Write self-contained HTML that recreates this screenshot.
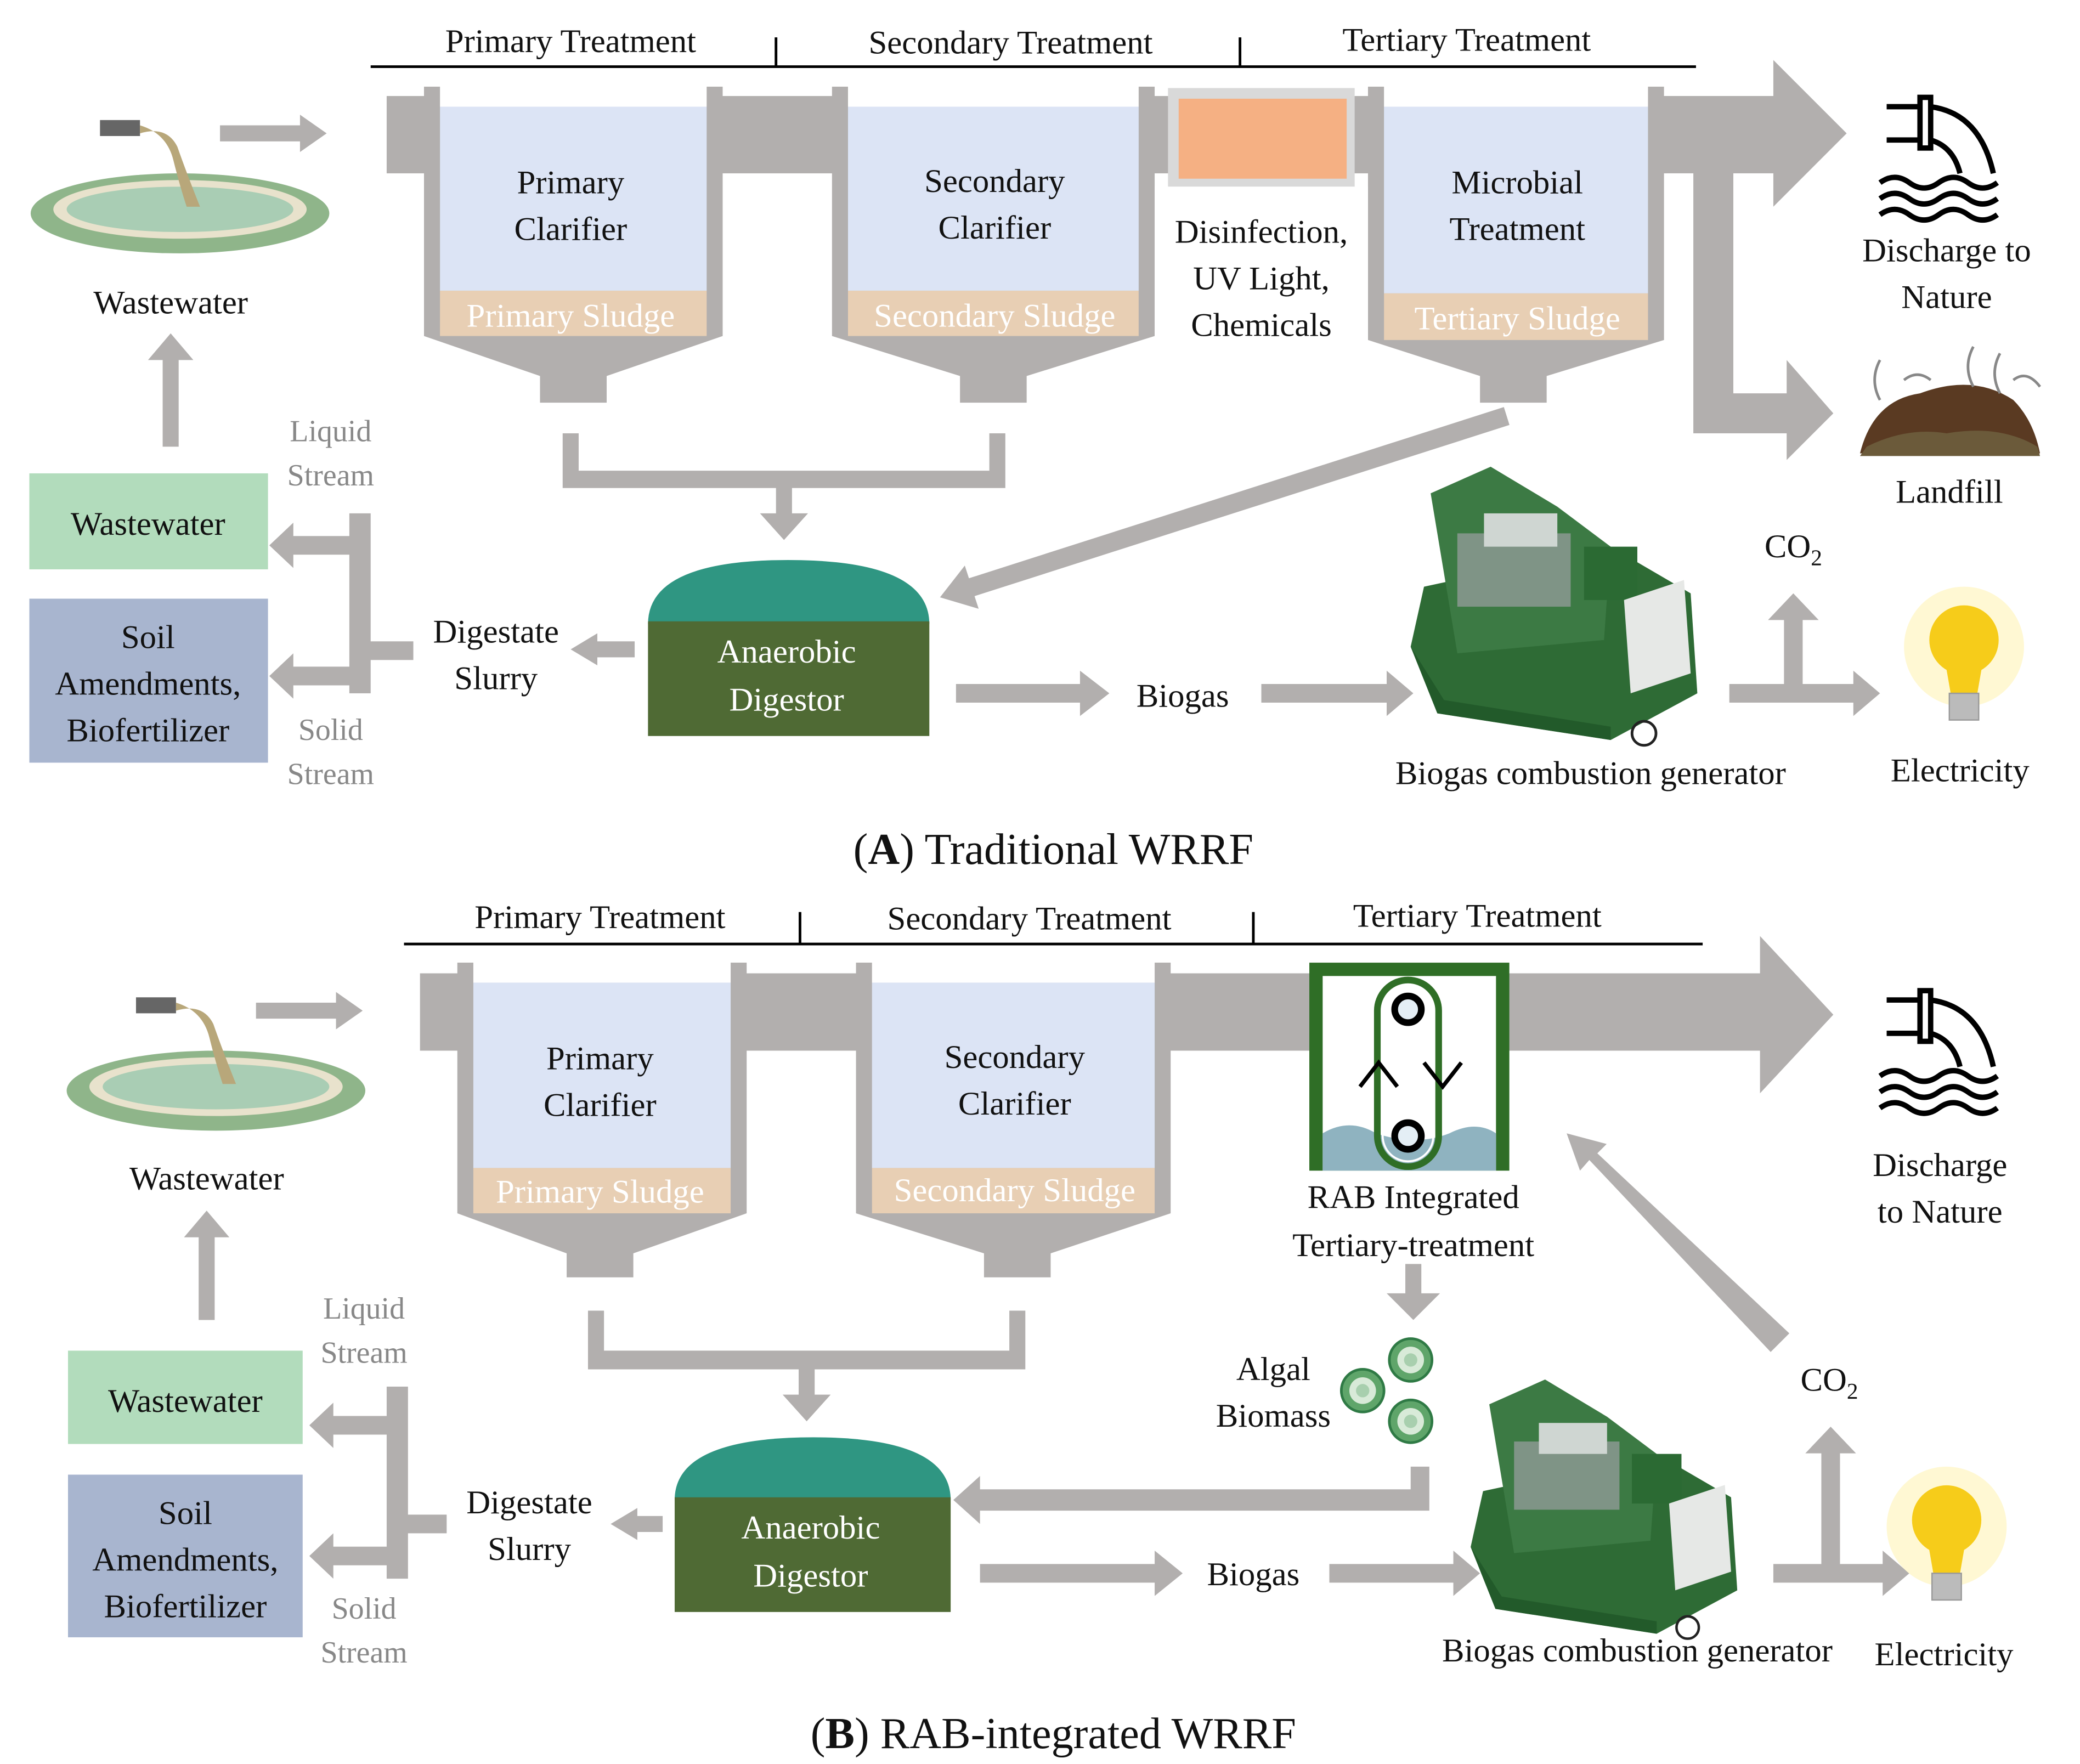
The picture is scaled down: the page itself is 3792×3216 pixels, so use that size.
<!DOCTYPE html>
<html><head><meta charset="utf-8"><style>
html,body{margin:0;padding:0;background:#fff;}
svg{display:block;}
text{font-family:"Liberation Serif",serif;}
</style></head><body>
<svg width="3792" height="3216" viewBox="0 0 1560 1323" xmlns="http://www.w3.org/2000/svg">
<defs>
<g id="gen">
<polygon points="10,95 150,65 210,100 215,175 150,210 20,190 0,140" fill="#2e6b35"/>
<polygon points="15,25 60,5 110,35 150,65 145,135 35,145" fill="#3c7a44"/>
<rect x="35" y="55" width="85" height="55" fill="#7f9486"/>
<rect x="55" y="40" width="55" height="25" fill="#cfd6d2"/>
<rect x="130" y="65" width="40" height="40" fill="#2b6a33"/>
<polygon points="160,105 205,90 210,160 165,175" fill="#e6e8e6"/>
<polygon points="0,140 20,190 150,210 150,200 25,180" fill="#225a2a"/>
<circle cx="175" cy="205" r="9" fill="none" stroke="#222" stroke-width="2"/>
</g>
<g id="pond">
<ellipse cx="0" cy="0" rx="112" ry="30" fill="#8fb58a"/>
<ellipse cx="0" cy="-3" rx="95" ry="22" fill="#e8e2cc"/>
<ellipse cx="0" cy="-3" rx="85" ry="17" fill="#a9cdb4"/>
<path d="M-60,-70 L-30,-70 L-30,-58 L-60,-58Z" fill="#666"/>
<path d="M-30,-66 Q-10,-60 -5,-40 Q0,-20 5,-5 L15,-5 Q5,-30 -2,-50 Q-10,-66 -30,-60Z" fill="#b8a77a"/>
</g>
<g id="discharge" fill="none" stroke="#000" stroke-width="4">
<path d="M-40,-35 H-15 M-40,-10 H-15"/>
<rect x="-15" y="-42" width="8" height="38"/>
<path d="M-7,-35 Q30,-30 40,15 M-7,-10 Q10,-5 15,15"/>
<path d="M-45,22 q11,-8 22,0 t22,0 t22,0 t22,0 M-45,34 q11,-8 22,0 t22,0 t22,0 t22,0 M-45,46 q11,-8 22,0 t22,0 t22,0 t22,0"/>
</g>
<g id="bulb">
<circle cx="0" cy="0" r="45" fill="#fff6c8" opacity="0.8"/>
<circle cx="0" cy="-5" r="26" fill="#f6cc1a"/>
<path d="M-14,12 L-10,35 H10 L14,12Z" fill="#f6cc1a"/>
<rect x="-11" y="35" width="22" height="20" fill="#bbb" stroke="#999"/>
</g>
<g id="alga">
<circle r="16" fill="#5fa56a" stroke="#2f7a45" stroke-width="2"/>
<circle r="10" fill="#d8ead8"/>
<circle r="5" fill="#a8cfae"/>
</g>
</defs>
<g fill="#b2afae">
<rect x="290" y="72" width="960" height="58"/>
<polygon points="1240,72 1330,72 1330,45 1385,100 1330,155 1330,130 1240,130"/>
<polygon points="1270,130 1300,130 1300,295 1340,295 1340,270 1375,310 1340,345 1340,325 1270,325"/>
<polygon points="318,65 542,65 542,252 455,282 455,302 405,302 405,282 318,252"/>
<polygon points="624,65 866,65 866,252 770,282 770,302 720,302 720,282 624,252"/>
<polygon points="1026,65 1248,65 1248,255 1160,282 1160,302 1110,302 1110,282 1026,255"/>
<path d="M422,325h12v28h308v-28h12v41h-160v19h12l-18,20l-18,-20h12v-19h-160z"/>
<polygon points="428,487 448,475 448,481 476,481 476,493 448,493 448,499"/>
<path d="M262,385h16v96h32v14h-32v25h-16v-6h-42v10l-18,-17l18,-17v10h42v-84h-42v10l-18,-17l18,-17v10h42z"/>
<polygon points="122,335 134,335 134,270 145,270 128,250 111,270 122,270"/>
<polygon points="165,94 225,94 225,86 245,100 225,114 225,106 165,106"/>
<polygon points="717,513 810,513 810,503 832,520 810,537 810,527 717,527"/>
<polygon points="946,513 1040,513 1040,503 1060,520 1040,537 1040,527 946,527"/>
<polygon points="1297,513 1338,513 1338,465 1326,465 1345,445 1364,465 1352,465 1352,513 1390,513 1390,503 1410,520 1390,537 1390,527 1297,527"/>
<rect x="315" y="730" width="1010" height="58"/>
<polygon points="1310,730 1320,730 1320,702 1375,761 1320,820 1320,788 1310,788"/>
<polygon points="343,722 560,722 560,910 475,940 475,958 425,958 425,940 343,910"/>
<polygon points="642,722 878,722 878,910 788,940 788,958 738,958 738,940 642,910"/>
<path d="M441,983h12v30h304v-30h12v44h-158v19h12l-18,20l-18,-20h12v-19h-158z"/>
<polygon points="1054,948 1066,948 1066,970 1080,970 1060,990 1040,970 1054,970"/>
<path d="M1058,1100h14v33h-337v10l-20,-18l20,-18v10h323z"/>
<polygon points="1342,1000 1328,1014 1192,870 1185,878 1175,850 1205,858 1198,865"/>
<polygon points="458,1143 478,1131 478,1137 497,1137 497,1149 478,1149 478,1155"/>
<path d="M290,1040h16v96h29v14h-29v34h-16v-10h-40v10l-18,-17l18,-17v10h40v-84h-40v10l-18,-17l18,-17v10h40z"/>
<polygon points="149,990 161,990 161,928 172,928 155,908 138,928 149,928"/>
<polygon points="192,752 252,752 252,744 272,758 252,772 252,764 192,764"/>
<polygon points="735,1173 866,1173 866,1163 887,1180 866,1197 866,1187 735,1187"/>
<polygon points="997,1173 1090,1173 1090,1163 1110,1180 1090,1197 1090,1187 997,1187"/>
<polygon points="1330,1173 1366,1173 1366,1090 1354,1090 1373,1070 1392,1090 1380,1090 1380,1173 1412,1173 1412,1163 1432,1180 1412,1197 1412,1187 1330,1187"/>
</g>
<rect x="330" y="60" width="200" height="20" fill="#fff"/>
<rect x="330" y="80" width="200" height="138" fill="#dce4f5"/>
<rect x="330" y="218" width="200" height="34" fill="#e8cfb4"/>
<rect x="636" y="60" width="218" height="20" fill="#fff"/>
<rect x="636" y="80" width="218" height="138" fill="#dce4f5"/>
<rect x="636" y="218" width="218" height="34" fill="#e8cfb4"/>
<rect x="1038" y="60" width="198" height="20" fill="#fff"/>
<rect x="1038" y="80" width="198" height="140" fill="#dce4f5"/>
<rect x="1038" y="220" width="198" height="35" fill="#e8cfb4"/>
<rect x="876" y="66" width="140" height="74" fill="#d9d9d9"/>
<rect x="884" y="74" width="126" height="60" fill="#f5b083"/>
<rect x="866" y="140" width="160" height="125" fill="#fff"/>
<polygon fill="#b2afae" points="1132.1,318.7 730.9,447.1 734,456.6 705,448 723.6,424.2 726.7,433.7 1127.9,305.3"/>
<rect x="355" y="717" width="193" height="20" fill="#fff"/>
<rect x="355" y="737" width="193" height="139" fill="#dce4f5"/>
<rect x="355" y="876" width="193" height="34" fill="#e8cfb4"/>
<rect x="654" y="717" width="212" height="20" fill="#fff"/>
<rect x="654" y="737" width="212" height="139" fill="#dce4f5"/>
<rect x="654" y="876" width="212" height="34" fill="#e8cfb4"/>
<rect x="982" y="722" width="150" height="156" fill="#2f6e26"/>
<rect x="992" y="732" width="130" height="146" fill="#fff"/>
<path d="M992,850 q20,-12 40,0 q30,10 55,0 q20,-10 35,0 V878 H992Z" fill="#8fb3c0"/>
<rect x="1033" y="735" width="46" height="140" rx="23" fill="none" stroke="#2f6e26" stroke-width="5"/>
<rect x="1037" y="739" width="38" height="132" rx="19" fill="none" stroke="#fff" stroke-width="1.5"/>
<circle cx="1056" cy="757" r="10" fill="#e4eef5" stroke="#000" stroke-width="5"/>
<circle cx="1056" cy="852" r="10" fill="#e4eef5" stroke="#000" stroke-width="5"/>
<path d="M1020,815 L1034,797 L1048,815 M1068,797 L1082,815 L1096,797" fill="none" stroke="#000" stroke-width="3"/>
<path d="M486,468 Q486,420 591,420 Q697,420 697,468Z" fill="#2f9682"/>
<rect x="486" y="466" width="211" height="86" fill="#4f6a34"/>
<path d="M506,1125 Q506,1078 610,1078 Q713,1078 713,1125Z" fill="#2f9682"/>
<rect x="506" y="1123" width="207" height="86" fill="#4f6a34"/>
<rect x="22" y="355" width="179" height="72" fill="#b2dcbc"/>
<rect x="22" y="449" width="179" height="123" fill="#a8b5cf"/>
<rect x="51" y="1013" width="176" height="70" fill="#b2dcbc"/>
<rect x="51" y="1106" width="176" height="122" fill="#a8b5cf"/>
<use href="#pond" x="135" y="160"/>
<use href="#pond" x="162" y="818"/>
<use href="#discharge" x="1455" y="115"/>
<use href="#discharge" x="1455" y="785"/>
<use href="#bulb" x="1473" y="485"/>
<use href="#bulb" x="1460" y="1145"/>
<use href="#gen" x="1058" y="345"/>
<g transform="translate(1103,1030) scale(0.93)"><use href="#gen"/></g>
<path d="M1395,340 Q1405,300 1440,295 Q1480,280 1510,300 Q1525,315 1530,340Z" fill="#5a3a22"/>
<path d="M1400,335 Q1430,320 1460,325 Q1500,318 1528,335 L1530,342 H1395Z" fill="#6b5a3a"/>
<path d="M1410,300 q-8,-15 0,-30 M1480,290 q-8,-15 0,-30 M1500,295 q-8,-15 0,-30 M1428,285 q10,-8 20,0 M1510,285 q10,-8 20,5" stroke="#888" stroke-width="2" fill="none"/>
<use href="#alga" x="1022" y="1043"/><use href="#alga" x="1058" y="1020"/><use href="#alga" x="1058" y="1066"/>
<g stroke="#000" stroke-width="2">
<line x1="278" y1="50" x2="1272" y2="50"/><line x1="582" y1="28" x2="582" y2="50"/><line x1="930" y1="28" x2="930" y2="50"/>
<line x1="303" y1="708" x2="1277" y2="708"/><line x1="600" y1="684" x2="600" y2="708"/><line x1="940" y1="684" x2="940" y2="708"/>
</g>
<g font-size="25" text-anchor="middle" fill="#111">
<text x="428" y="39">Primary Treatment</text>
<text x="758" y="40">Secondary Treatment</text>
<text x="1100" y="38">Tertiary Treatment</text>
<text x="428" y="145">Primary</text><text x="428" y="180">Clarifier</text>
<text x="746" y="144">Secondary</text><text x="746" y="179">Clarifier</text>
<text x="1138" y="145">Microbial</text><text x="1138" y="180">Treatment</text>
<text x="946" y="182">Disinfection,</text><text x="946" y="217">UV Light,</text><text x="946" y="252">Chemicals</text>
<text x="1460" y="196">Discharge to</text><text x="1460" y="231">Nature</text>
<text x="1462" y="377">Landfill</text>
<text x="128" y="235">Wastewater</text>
<text x="111" y="401">Wastewater</text>
<text x="111" y="486">Soil</text><text x="111" y="521">Amendments,</text><text x="111" y="556">Biofertilizer</text>
<text x="372" y="482">Digestate</text><text x="372" y="517">Slurry</text>
<text x="887" y="530">Biogas</text>
<text x="1193" y="588">Biogas combustion generator</text>
<text x="1470" y="586">Electricity</text>
<text x="1345" y="418">CO<tspan font-size="17" dy="6">2</tspan></text>
<text x="450" y="696">Primary Treatment</text>
<text x="772" y="697">Secondary Treatment</text>
<text x="1108" y="695">Tertiary Treatment</text>
<text x="450" y="802">Primary</text><text x="450" y="837">Clarifier</text>
<text x="761" y="801">Secondary</text><text x="761" y="836">Clarifier</text>
<text x="1060" y="906">RAB Integrated</text><text x="1060" y="942">Tertiary-treatment</text>
<text x="955" y="1035">Algal</text><text x="955" y="1070">Biomass</text>
<text x="1455" y="882">Discharge</text><text x="1455" y="917">to Nature</text>
<text x="155" y="892">Wastewater</text>
<text x="139" y="1059">Wastewater</text>
<text x="139" y="1143">Soil</text><text x="139" y="1178">Amendments,</text><text x="139" y="1213">Biofertilizer</text>
<text x="397" y="1135">Digestate</text><text x="397" y="1170">Slurry</text>
<text x="940" y="1189">Biogas</text>
<text x="1228" y="1246">Biogas combustion generator</text>
<text x="1458" y="1249">Electricity</text>
<text x="1372" y="1043">CO<tspan font-size="17" dy="6">2</tspan></text>
</g>
<g font-size="25" text-anchor="middle" fill="#fff">
<text x="428" y="245">Primary Sludge</text>
<text x="746" y="245">Secondary Sludge</text>
<text x="1138" y="247">Tertiary Sludge</text>
<text x="450" y="902">Primary Sludge</text>
<text x="761" y="901">Secondary Sludge</text>
<text x="590" y="497">Anaerobic</text><text x="590" y="533">Digestor</text>
<text x="608" y="1154">Anaerobic</text><text x="608" y="1190">Digestor</text>
</g>
<g font-size="23" text-anchor="middle" fill="#888">
<text x="248" y="331">Liquid</text><text x="248" y="364">Stream</text>
<text x="248" y="555">Solid</text><text x="248" y="588">Stream</text>
<text x="273" y="989">Liquid</text><text x="273" y="1022">Stream</text>
<text x="273" y="1214">Solid</text><text x="273" y="1247">Stream</text>
</g>
<g font-size="33" text-anchor="middle" fill="#111">
<text x="790" y="648">(<tspan font-weight="bold">A</tspan>) Traditional WRRF</text>
<text x="790" y="1311">(<tspan font-weight="bold">B</tspan>) RAB-integrated WRRF</text>
</g>
</svg>
</body></html>
